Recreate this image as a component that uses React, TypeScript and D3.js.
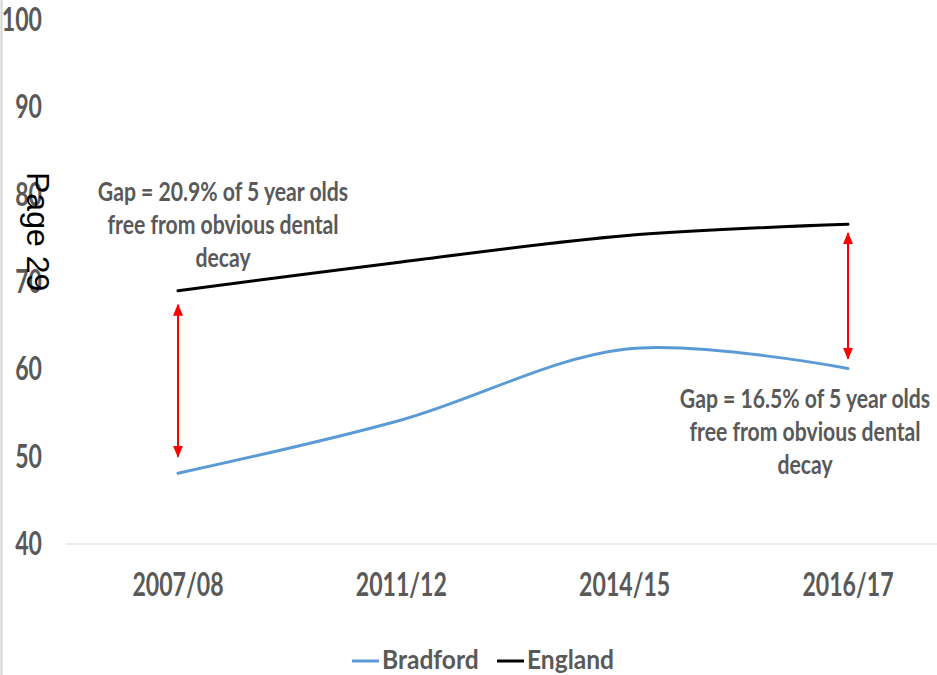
import React from "react";
import * as d3 from "d3";

const categories = ["2007/08", "2011/12", "2014/15", "2016/17"];
const bradford = [48.1, 54.2, 62.3, 60.1];
const england = [69.0, 72.3, 75.3, 76.6];
const yTicks = [40, 50, 60, 70, 80, 90, 100];
const seriesNames = ["Bradford", "England"];
const seriesColors = ["#5b9bd5", "#000000"];
const gapArrows = [
  { cat: "2007/08", from: 50.0, to: 67.4 },
  { cat: "2016/17", from: 61.2, to: 75.6 },
];
const gapNotes = [
  { lines: ["Gap = 20.9% of 5 year olds", "free from obvious dental", "decay"] },
  { lines: ["Gap = 16.5% of 5 year olds", "free from obvious dental", "decay"] },
];

const W = 937;
const H = 675;
const FONT = "Lato, 'Open Sans', sans-serif";
const GREY = "#595959";

function T(props: any) {
  const { x, y, sx = 1, size, anchor = "middle", fill = GREY, weight = 700, children, family = FONT } = props;
  return (
    <text
      transform={`translate(${x},${y}) scale(${sx},1)`}
      textAnchor={anchor}
      fontSize={size}
      fontFamily={family}
      fontWeight={weight}
      fill={fill}
    >
      {children}
    </text>
  );
}

export default function App() {
  const x = d3.scalePoint<string>().domain(categories).range([178, 848]);
  const step = x.step();
  const y = d3.scaleLinear().domain([40, 100]).range([544, 20]);
  const line = d3
    .line<number>()
    .x((_, i) => x(categories[i]) as number)
    .y((d) => y(d))
    .curve(d3.curveCardinal.tension(0));
  const series = [bradford, england];

  const noteAnchors = [
    { x: 223, y: 201 },
    { x: 805, y: 408 },
  ];

  return (
    <svg
      width={W}
      height={H}
      style={{ position: "absolute", left: 0, top: 0, background: "#fff" }}
    >
      <defs>
        <marker id="ah" viewBox="0 0 12 10" refX="11" refY="5" markerWidth="12" markerHeight="10" orient="auto-start-reverse" markerUnits="userSpaceOnUse">
          <path d="M0,0 L12,5 L0,10 z" fill="#ff0000" />
        </marker>
      </defs>
      <rect x={0} y={0} width={W} height={H} fill="#fff" />
      <line x1={1.5} x2={1.5} y1={0} y2={H} stroke="#d4d4d4" strokeWidth={2} />
      <line
        x1={(x(categories[0]) as number) - step / 2}
        x2={(x(categories[categories.length - 1]) as number) + step / 2}
        y1={y(40)}
        y2={y(40)}
        stroke="#d9d9d9"
        strokeWidth={1}
      />
      {yTicks.map((t) => (
        <T key={t} x={42} y={y(t) + 11} size={33} sx={0.7} anchor="end">
          {t}
        </T>
      ))}
      {categories.map((c) => (
        <T key={c} x={x(c)} y={596} size={33} sx={0.7}>
          {c}
        </T>
      ))}
      {series.map((s, i) => (
        <path key={i} d={line(s) || ""} fill="none" stroke={seriesColors[i]} strokeWidth={3} strokeLinecap="round" />
      ))}
      {gapArrows.map((a, i) => (
        <line
          key={i}
          x1={x(a.cat)}
          x2={x(a.cat)}
          y1={y(a.to)}
          y2={y(a.from)}
          stroke="#ff0000"
          strokeWidth={2}
          markerStart="url(#ah)"
          markerEnd="url(#ah)"
        />
      ))}
      {gapNotes.map((n, i) =>
        n.lines.map((l, j) => (
          <T key={`${i}-${j}`} x={noteAnchors[i].x} y={noteAnchors[i].y + j * 33} size={27.5} sx={0.77}>
            {l}
          </T>
        ))
      )}
      {seriesNames.map((nm, i) => {
        const lx = [352, 497][i];
        return (
          <g key={nm}>
            <line x1={lx} x2={lx + 27} y1={661} y2={661} stroke={seriesColors[i]} strokeWidth={3} />
            <T x={lx + 30} y={669} size={27} sx={0.91} anchor="start">
              {nm}
            </T>
          </g>
        );
      })}
      <text
        transform="translate(27,172) rotate(90)"
        fontSize={32}
        fontFamily="'Liberation Sans', Arial, sans-serif"
        fill="#000"
      >
        Page 29
      </text>
    </svg>
  );
}
